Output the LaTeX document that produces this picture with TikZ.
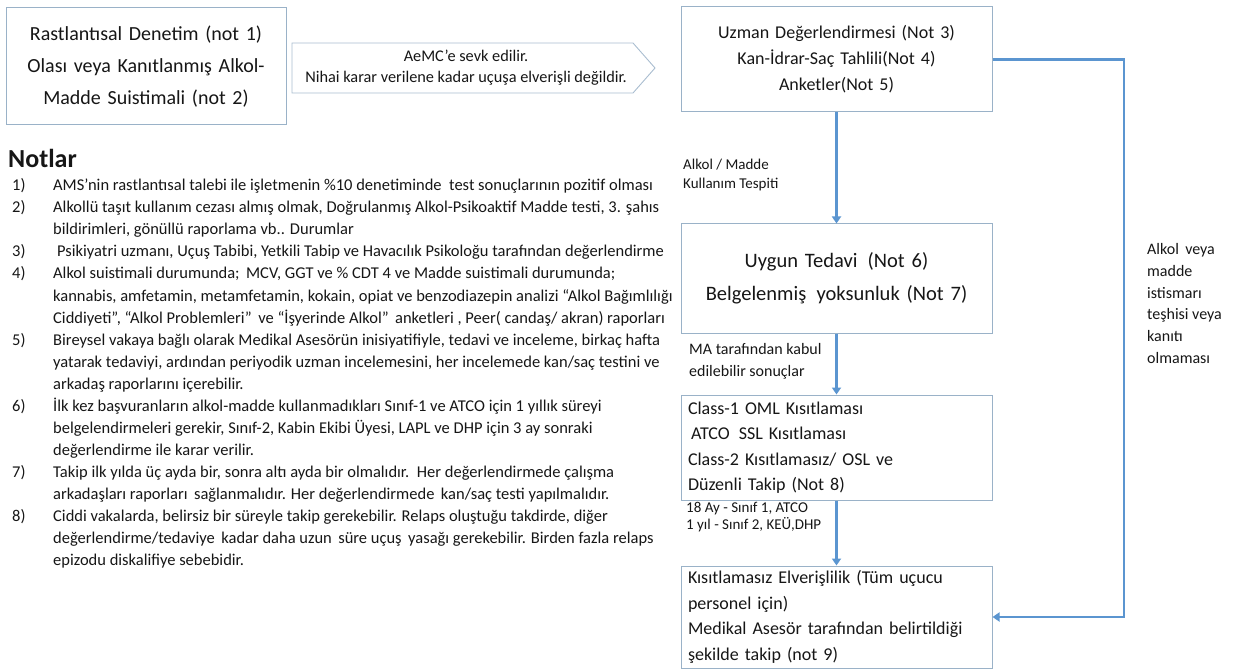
\documentclass[tikz,border=0pt]{standalone}
\usepackage{fontspec}
\setmainfont{Carlito}
\usetikzlibrary{arrows.meta}
\definecolor{boxc}{HTML}{9AB2C8}
\definecolor{pentc}{HTML}{A9BDD0}
\definecolor{flowc}{HTML}{5B95D0}
\definecolor{txt}{HTML}{161616}
\begin{document}
\begin{tikzpicture}[x=1pt,y=-1pt,
  box/.style={draw=boxc, line width=1pt, fill=white, inner ysep=0pt, text=txt},
  cbox/.style={box, align=center, inner xsep=0pt, text width=#1},
  lbox/.style={box, align=left, inner xsep=7pt, text width=297pt, minimum height=#1,
      font=\fontsize{18}{25.5}\selectfont},
  flow/.style={draw=flowc, line width=2.6pt, -{Triangle[length=7pt,width=9pt]}},
  lab/.style={text=txt, align=left, inner sep=0pt, anchor=west},
]
\useasboundingbox (0,0) rectangle (1237,671);

% left box
\node[cbox=280pt, minimum height=117pt, font=\fontsize{20}{32}\selectfont] (b1) at (146,66.5)
  {Rastlantısal Denetim (not 1)\\Olası veya Kanıtlanmış Alkol-\\Madde Suistimali (not 2)};

% pentagon arrow
\draw[draw=pentc, line width=0.9pt, fill=white] (292,43) -- (633,43) -- (655,68) -- (633,93) -- (292,93) -- cycle;
\node[text=txt, align=center, inner sep=0pt, font=\fontsize{16.3}{20.5}\selectfont] (pt) at (466,67.5)
  {AeMC’e sevk edilir.\\Nihai karar verilene kadar uçuşa elverişli değildir.};

% right column boxes
\node[cbox=311pt, minimum height=105pt, font=\fontsize{18}{26}\selectfont] (b2) at (836.5,59.5)
  {Uzman Değerlendirmesi (Not 3)\\Kan-İdrar-Saç Tahlili(Not 4)\\Anketler(Not 5)};
\node[cbox=311pt, minimum height=109pt, font=\fontsize{20.5}{33}\selectfont] (b3) at (836.5,278.5)
  {Uygun Tedavi \,(Not 6)\\Belgelenmiş \,yoksunluk (Not 7)};
\node[lbox=105pt] (b4) at (836.5,447.5)
  {Class-1 OML Kısıtlaması\\\hspace*{3pt}ATCO \,SSL Kısıtlaması\\Class-2 Kısıtlamasız/ OSL ve\\Düzenli Takip (Not 8)};
\node[lbox=102pt] (b5) at (836.5,617)
  {Kısıtlamasız Elverişlilik (Tüm uçucu\\personel için)\\Medikal Asesör tarafından belirtildiği\\şekilde takip (not 9)};

% connectors
\draw[flow] (b2) -- (b3);
\draw[flow] (b3) -- (b4);
\draw[flow] (b4) -- (b5);
\coordinate (rc) at (1124,59.5);
\draw[flow] (b2.east) -- (rc) |- (b5.east);

% connector labels
\node[lab, font=\fontsize{15}{19}\selectfont] (l1) at (683,175.5) {Alkol / Madde\\Kullanım Tespiti};
\node[lab, font=\fontsize{16}{22.5}\selectfont] (l2) at (689,361.5) {MA tarafından kabul\\edilebilir sonuçlar};
\node[lab, font=\fontsize{15}{17.5}\selectfont] (l3) at (686,517) {18 Ay - Sınıf 1, ATCO\\1 yıl - Sınıf 2, KEÜ,DHP};
\node[lab, font=\fontsize{16}{21.8}\selectfont] (l4) at (1147,303.5)
  {Alkol \,veya\\madde\\istismarı\\teşhisi veya\\kanıtı\\olmaması};

% notes
\node[lab, anchor=base west, font=\fontsize{26}{30}\bfseries] (nh) at (8,168) {Notlar};
\node[lab, anchor=north west, font=\fontsize{16.5}{22.06}\selectfont] (notes) at (12,175.1) {%
\begin{tabular}{@{}p{41pt}@{}l@{}}
1) & AMS’nin rastlantısal talebi ile işletmenin \%10 denetiminde \ test sonuçlarının pozitif olması\\
2) & Alkollü taşıt kullanım cezası almış olmak, Doğrulanmış Alkol-Psikoaktif Madde testi, 3. şahıs\\
   & bildirimleri, gönüllü raporlama vb.. Durumlar\\
3) & \hspace*{4pt}Psikiyatri uzmanı, Uçuş Tabibi, Yetkili Tabip ve Havacılık Psikoloğu tarafından değerlendirme\\
4) & Alkol suistimali durumunda; \,MCV, GGT ve \% CDT 4 ve Madde suistimali durumunda;\\
   & kannabis, amfetamin, metamfetamin, kokain, opiat ve benzodiazepin analizi “Alkol Bağımlılığı\\
   & Ciddiyeti”, “Alkol Problemleri” \,ve “İşyerinde Alkol” \,anketleri , Peer( candaş/ akran) raporları\\
5) & Bireysel vakaya bağlı olarak Medikal Asesörün inisiyatifiyle, tedavi ve inceleme, birkaç hafta\\
   & yatarak tedaviyi, ardından periyodik uzman incelemesini, her incelemede kan/saç testini ve\\
   & arkadaş raporlarını içerebilir.\\
6) & İlk kez başvuranların alkol-madde kullanmadıkları Sınıf-1 ve ATCO için 1 yıllık süreyi\\
   & belgelendirmeleri gerekir, Sınıf-2, Kabin Ekibi Üyesi, LAPL ve DHP için 3 ay sonraki\\
   & değerlendirme ile karar verilir.\\
7) & Takip ilk yılda üç ayda bir, sonra altı ayda bir olmalıdır. \,Her değerlendirmede çalışma\\
   & arkadaşları raporları \,sağlanmalıdır. Her değerlendirmede \,kan/saç testi yapılmalıdır.\\
8) & Ciddi vakalarda, belirsiz bir süreyle takip gerekebilir. Relaps oluştuğu takdirde, diğer\\
   & değerlendirme/tedaviye \,kadar daha uzun \,süre uçuş \,yasağı gerekebilir. Birden fazla relaps\\
   & epizodu diskalifiye sebebidir.
\end{tabular}};
\end{tikzpicture}
\end{document}
